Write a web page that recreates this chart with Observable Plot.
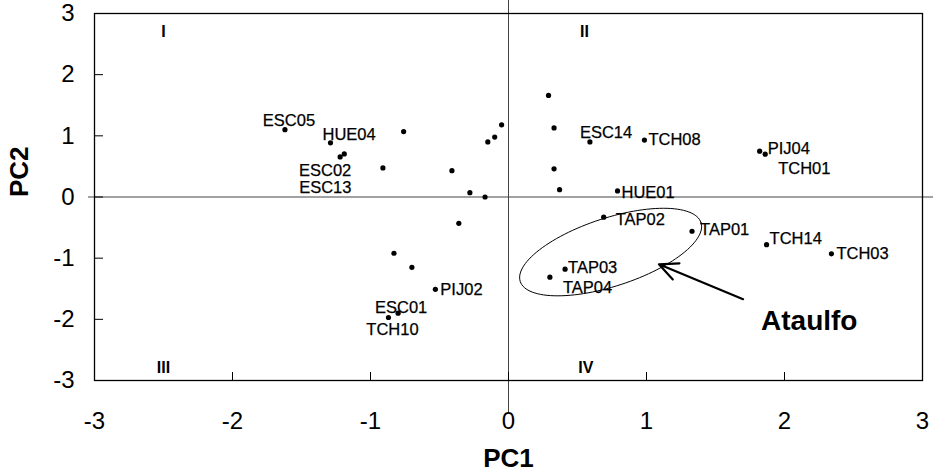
<!DOCTYPE html>
<html><head><meta charset="utf-8">
<script src="https://cdn.jsdelivr.net/npm/d3@7"></script>
<script src="https://cdn.jsdelivr.net/npm/@observablehq/plot@0.6"></script>
<style>body{margin:0;background:#fff}</style>
</head><body><div id="chart"></div>
<script>
// sample names ("" = unlabelled)
const names = ["ESC05","HUE04","ESC02","ESC13","","","","","","","","","","","ESC14","TCH08","PIJ04","TCH01","","","HUE01","","","","PIJ02","ESC01","TCH10","TAP02","TAP01","TCH14","TCH03","TAP03","TAP04"];
const pc1 = [-1.62,-1.29,-1.22,-1.19,-0.76,-0.91,-0.41,-0.28,-0.17,-0.15,-0.10,-0.05,0.29,0.33,0.59,0.985,1.82,1.86,0.33,0.37,0.79,-0.36,-0.83,-0.70,-0.53,-0.80,-0.87,0.69,1.33,1.87,2.34,0.41,0.30];
const pc2 = [1.10,0.885,0.655,0.705,1.07,0.475,0.43,0.07,0.00,0.90,0.98,1.18,1.66,1.13,0.90,0.93,0.75,0.70,0.46,0.12,0.10,-0.43,-0.92,-1.15,-1.51,-1.90,-1.97,-0.33,-0.56,-0.78,-0.93,-1.18,-1.31];
const xTicks = [-3,-2,-1,0,1,2,3];
const yTicks = [-3,-2,-1,0,1,2,3];
const xTitle = "PC1";
const yTitle = "PC2";
const quadrants = ["I","II","III","IV"];
const quadX = [-2.5,0.55,-2.5,0.56];
const quadY = [2.70,2.70,-2.80,-2.80];
// Ataulfo group ellipse (centre, semi-axis vectors in data units)
const ellCenter = [0.74,-0.90];
const ellMajor = [0.655,0.481];
const ellMinor = [-0.076,0.530];
// arrow tail -> head
const arrowFrom = [1.70,-1.67];
const arrowTo = [1.09,-1.10];
const annotText = ["Ataulfo"];
const annotX = [1.83];
const annotY = [-2.02];

const W = 933, H = 476, mL = 94, mR = 11, mT = 13, mB = 96;
const plotW = W - mL - mR, plotH = H - mT - mB;

const pts = names.map((n,i)=>({name:n, x:pc1[i], y:pc2[i]}));
// label placement: [dx, dy, anchor]
const place = {
  ESC05:[4,-9,"middle"], HUE04:[-8,-8,"start"], ESC02:[-15,14,"middle"], ESC13:[-19,34,"middle"],
  ESC14:[-10,-9,"start"], TCH08:[4,0,"start"], PIJ04:[8,-2,"start"], TCH01:[13,15,"start"],
  HUE01:[4,2,"start"], PIJ02:[5,0,"start"], ESC01:[3,-5,"middle"], TCH10:[4,12,"middle"],
  TAP02:[12,3,"start"], TAP01:[8,-2,"start"], TCH14:[3,-6,"start"], TCH03:[5,0,"start"],
  TAP03:[3,-1,"start"], TAP04:[13,11,"start"]
};
const labelled = pts.filter(d=>d.name).map(d=>({...d, dx:place[d.name][0], dy:place[d.name][1], anchor:place[d.name][2]}));

const ell = d3.range(0,121).map(i=>{
  const t = i/120*2*Math.PI;
  return {x: ellCenter[0]+Math.cos(t)*ellMajor[0]+Math.sin(t)*ellMinor[0],
          y: ellCenter[1]+Math.cos(t)*ellMajor[1]+Math.sin(t)*ellMinor[1]};
});
const quads = quadrants.map((q,i)=>({q, x:quadX[i], y:quadY[i]}));

const labelFont = "Liberation Sans, Arial, sans-serif";

function labelMarks(anchor){
  const data = labelled.filter(d=>d.anchor===anchor);
  return data.map(d=>Plot.text([d], {x:"x", y:"y", text:"name", dx:d.dx, dy:d.dy, textAnchor:anchor,
    fontSize:16.5, fontFamily:labelFont, fill:"#000", stroke:"#000", strokeWidth:0.25}));
}

const chart = Plot.plot({
  width: W, height: H,
  marginLeft: mL, marginRight: mR, marginTop: mT, marginBottom: mB,
  x: {domain:[-3,3]}, y: {domain:[-3,3]},
  style: {fontFamily: labelFont, background:"#fff", overflow:"visible"},
  marks: [
    Plot.ruleY([0], {stroke:"#444", strokeWidth:1, insetLeft:-6, insetRight:-11}),
    Plot.ruleX([0], {stroke:"#444", strokeWidth:1, insetTop:-13, insetBottom:-32}),
    Plot.frame({stroke:"#000", strokeWidth:1.3}),
    Plot.tickX(xTicks.slice(1,-1), {x:d=>d, insetTop: plotH-8, stroke:"#000"}),
    Plot.tickY(yTicks.slice(1,-1), {y:d=>d, insetRight: plotW-9, stroke:"#000"}),
    Plot.axisX(xTicks, {tickSize:0, tickPadding:31, fontSize:24, fontFamily:labelFont, fill:"#000",
      tickFormat:d=>`${d}`, label:null}),
    Plot.axisY(yTicks, {tickSize:0, tickPadding:20, fontSize:24, fontFamily:labelFont, fill:"#000",
      tickFormat:d=>`${d}`, label:null}),
    Plot.text([xTitle], {frameAnchor:"bottom", dy:86, fontSize:26, fontWeight:"bold", fontFamily:labelFont, fill:"#000"}),
    Plot.text([yTitle], {frameAnchor:"left", dx:-75, rotate:-90, fontSize:26, fontWeight:"bold", fontFamily:labelFont, fill:"#000"}),
    Plot.text(quads, {x:"x", y:"y", text:"q", fontSize:16, fontWeight:"bold", fontFamily:labelFont, fill:"#000"}),
    Plot.line(ell, {x:"x", y:"y", stroke:"#000", strokeWidth:1}),
    Plot.arrow([0], {x1:()=>arrowFrom[0], y1:()=>arrowFrom[1], x2:()=>arrowTo[0], y2:()=>arrowTo[1],
      stroke:"#000", strokeWidth:2.2, headLength:14, headAngle:50}),
    Plot.text(annotText, {x:(d,i)=>annotX[i], y:(d,i)=>annotY[i], text:d=>d, textAnchor:"start",
      fontSize:28, fontWeight:"bold", fontFamily:labelFont, fill:"#000"}),
    Plot.dot(pts, {x:"x", y:"y", r:2.6, fill:"#000", stroke:"none"}),
    ...labelMarks("start"), ...labelMarks("middle")
  ]
});
document.getElementById("chart").appendChild(chart);
</script>
</body></html>
